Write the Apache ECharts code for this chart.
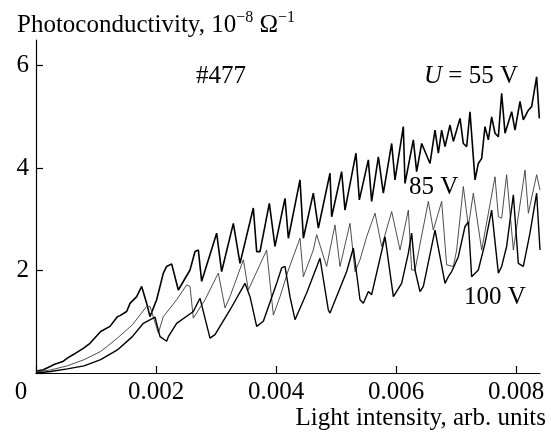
<!DOCTYPE html>
<html><head><meta charset="utf-8">
<script src="https://cdn.jsdelivr.net/npm/echarts@6/dist/echarts.min.js"></script>
<style>html,body{margin:0;padding:0;background:#fff}#c{width:551px;height:435px}</style>
</head><body><div id="c"></div>
<script>
const xTicks = [0, 0.002, 0.004, 0.006, 0.008];
const yTicks = [2, 4, 6];

// U = 55 V
const x55 = [0, 0.000056, 0.000122, 0.000244, 0.000289, 0.000456, 0.000522, 0.000622, 0.0008, 0.0009,
  0.001078, 0.001233, 0.001356, 0.0014, 0.001511, 0.001567, 0.001678, 0.001761, 0.001844, 0.0019,
  0.002011, 0.002122, 0.002178, 0.002261, 0.002372, 0.002567, 0.00265, 0.002706, 0.002761, 0.003011,
  0.003094, 0.003289, 0.0034, 0.003622, 0.003678, 0.003733, 0.003889, 0.003983, 0.00415, 0.004206,
  0.0044, 0.004456, 0.004622, 0.004706, 0.0049, 0.004928, 0.005094, 0.00515, 0.005333, 0.005389,
  0.005539, 0.005594, 0.005706, 0.005789, 0.005928, 0.005983, 0.006122, 0.00615, 0.006289, 0.006344,
  0.006428, 0.006567, 0.00665, 0.006706, 0.006761, 0.006817, 0.0069, 0.006956, 0.007067, 0.007122,
  0.007178, 0.007233, 0.007317, 0.007372, 0.007428, 0.007483, 0.007539, 0.007594, 0.00765, 0.007706,
  0.007761, 0.007817, 0.007928, 0.007983, 0.008067, 0.008122, 0.008206, 0.008261, 0.008344, 0.008389];
const y55 = [0.03, 0.05, 0.065, 0.13, 0.16, 0.23, 0.29, 0.36, 0.49, 0.58,
  0.81, 0.91, 1.10, 1.12, 1.20, 1.36, 1.49, 1.69, 1.36, 1.10,
  1.43, 1.95, 2.08, 2.13, 1.62, 2.01, 2.37, 2.40, 1.79, 2.73,
  1.98, 2.92, 2.14, 3.22, 2.37, 2.37, 3.31, 2.47, 3.41, 2.63,
  3.77, 2.63, 3.51, 2.83, 3.90, 3.05, 3.93, 3.18, 4.29, 3.38,
  4.16, 3.35, 4.22, 3.51, 4.48, 3.77, 4.81, 3.70, 4.55, 3.93,
  4.48, 4.09, 4.74, 4.29, 4.74, 4.42, 4.84, 4.52, 4.97, 4.48,
  4.42, 5.10, 3.77, 4.09, 4.19, 4.81, 4.55, 5.00, 4.68, 4.61,
  5.46, 4.68, 5.10, 4.74, 5.30, 4.94, 5.13, 5.20, 5.78, 4.97];

// 85 V
const x85 = [0, 0.000244, 0.000522, 0.0008, 0.001078, 0.001356, 0.001606, 0.001844, 0.0019, 0.002039,
  0.002122, 0.002344, 0.002511, 0.002567, 0.002622, 0.002817, 0.003039, 0.00315, 0.003233, 0.003456,
  0.003539, 0.003844, 0.003956, 0.004067, 0.004206, 0.0044, 0.004456, 0.004622, 0.004678, 0.004844,
  0.004983, 0.005067, 0.005233, 0.005317, 0.0054, 0.005511, 0.00565, 0.005761, 0.005928, 0.006067,
  0.006206, 0.006261, 0.006317, 0.006539, 0.006622, 0.006761, 0.006844, 0.006956, 0.007011, 0.007122,
  0.007206, 0.007289, 0.007428, 0.00765, 0.007706, 0.007761, 0.007844, 0.007956, 0.00815, 0.008206,
  0.008344, 0.0084];
const y85 = [0.02, 0.06, 0.14, 0.26, 0.42, 0.68, 0.94, 1.30, 1.30, 0.78,
  1.10, 1.43, 1.72, 1.69, 1.07, 1.43, 1.95, 1.27, 1.49, 2.21,
  1.62, 2.40, 1.13, 1.49, 2.01, 2.63, 1.88, 2.40, 2.70, 2.08,
  2.89, 2.08, 2.92, 1.98, 2.21, 2.66, 3.12, 2.47, 3.15, 2.40,
  3.18, 2.01, 2.01, 3.35, 2.79, 3.35, 2.11, 2.08, 2.40, 3.64,
  2.86, 3.51, 2.40, 3.83, 3.05, 3.02, 3.87, 2.40, 3.96, 3.12,
  3.87, 3.57];

// 100 V
const x100 = [0, 0.000244, 0.000522, 0.0008, 0.001078, 0.001356, 0.001606, 0.001789, 0.001983, 0.002067,
  0.002178, 0.002206, 0.002344, 0.002622, 0.002733, 0.0029, 0.002983, 0.003233, 0.003483, 0.003567,
  0.003678, 0.003789, 0.004011, 0.004094, 0.00415, 0.004233, 0.004317, 0.004511, 0.004733, 0.004872,
  0.0049, 0.005178, 0.005289, 0.0054, 0.005456, 0.005539, 0.005594, 0.005817, 0.005956, 0.006094,
  0.006206, 0.006261, 0.006317, 0.0064, 0.006456, 0.006594, 0.00665, 0.006817, 0.006872, 0.006928,
  0.007039, 0.00715, 0.007206, 0.007261, 0.007372, 0.007483, 0.007594, 0.007706, 0.007761, 0.007844,
  0.007956, 0.008039, 0.008122, 0.008233, 0.008344, 0.0084];
const y100 = [0, 0.03, 0.08, 0.14, 0.26, 0.45, 0.71, 0.97, 1.09, 0.71,
  0.62, 0.71, 0.97, 1.20, 1.46, 0.68, 0.75, 1.23, 1.75, 1.49,
  0.91, 1.01, 1.75, 2.05, 2.08, 1.49, 1.04, 1.56, 2.24, 1.23,
  1.17, 1.98, 2.44, 1.43, 1.36, 1.59, 1.53, 2.66, 1.49, 1.75,
  2.34, 2.73, 2.01, 1.59, 1.69, 2.47, 2.79, 1.75, 1.88, 1.98,
  2.27, 2.86, 2.95, 1.88, 2.01, 2.53, 3.18, 1.95, 2.08, 2.47,
  3.48, 2.14, 2.08, 2.73, 3.51, 2.40];

const zip = (xs, ys) => xs.map((x, i) => [x, ys[i]]);
const FONT = 'Liberation Serif';
const FS = 25;
const chart = echarts.init(document.getElementById('c'), null, {renderer: 'canvas'});
const lineSeries = (name, xs, ys, color, width) => ({
  type: 'line', name, data: zip(xs, ys), showSymbol: false, symbol: 'none',
  lineStyle: {color, width}, itemStyle: {color}, silent: true, emphasis: {disabled: true}
});
chart.setOption({
  animation: false,
  backgroundColor: '#fff',
  grid: {left: 36, right: 11, top: 40, bottom: 62, containLabel: false, outerBoundsMode: 'none'},
  xAxis: {
    type: 'value', min: 0, max: 0.0084, interval: 0.002,
    axisLine: {show: true, lineStyle: {color: '#000', width: 1.2}},
    axisTick: {show: true, inside: true, length: 7, customValues: xTicks, lineStyle: {color: '#000', width: 1.2}},
    axisLabel: {
      customValues: xTicks, margin: 7, color: '#000', fontFamily: FONT, fontSize: FS,
      formatter: v => v === 0 ? '{z|0}' : v.toFixed(3),
      rich: {z: {fontFamily: FONT, fontSize: FS, color: '#000', padding: [0, 30, 0, 0]}}
    },
    splitLine: {show: false},
    name: 'Light intensity, arb. units', nameLocation: 'end', nameGap: 6,
    nameTextStyle: {fontFamily: FONT, fontSize: FS, color: '#000', align: 'right', verticalAlign: 'top', padding: [33, 0, 0, 0]}
  },
  yAxis: {
    type: 'value', min: 0, max: 6.5, interval: 2,
    axisLine: {show: true, lineStyle: {color: '#000', width: 1.2}},
    axisTick: {show: true, inside: true, length: 7, customValues: [0, 2, 4, 6], lineStyle: {color: '#000', width: 1.2}},
    axisLabel: {customValues: yTicks, margin: 7, color: '#000', fontFamily: FONT, fontSize: FS},
    splitLine: {show: false}
  },
  series: [
    lineSeries('U = 55 V', x55, y55, '#000', 1.6),
    lineSeries('85 V', x85, y85, '#3a3a3a', 0.9),
    lineSeries('100 V', x100, y100, '#000', 1.4)
  ],
  graphic: [
    {type: 'text', left: 17, top: 10, silent: true, style: {
      text: '{a|Photoconductivity, 10}{s|−8}{a| Ω}{s|−1}',
      rich: {
        a: {fontFamily: FONT, fontSize: FS, fill: '#000', lineHeight: 31},
        s: {fontFamily: FONT, fontSize: 16, fill: '#000', verticalAlign: 'top'}
      }
    }},
    {type: 'text', left: 196, top: 64, silent: true, style: {text: '#477', fontFamily: FONT, fontSize: FS, fill: '#000'}},
    {type: 'text', left: 424, top: 64, silent: true, style: {
      text: '{i|U}{n| = 55 V}',
      rich: {i: {fontFamily: FONT, fontSize: FS, fontStyle: 'italic', fill: '#000'}, n: {fontFamily: FONT, fontSize: FS, fill: '#000'}}
    }},
    {type: 'text', left: 409, top: 175, silent: true, style: {text: '85 V', fontFamily: FONT, fontSize: FS, fill: '#000'}},
    {type: 'text', left: 464, top: 285, silent: true, style: {text: '100 V', fontFamily: FONT, fontSize: FS, fill: '#000'}}
  ]
});
</script></body></html>
